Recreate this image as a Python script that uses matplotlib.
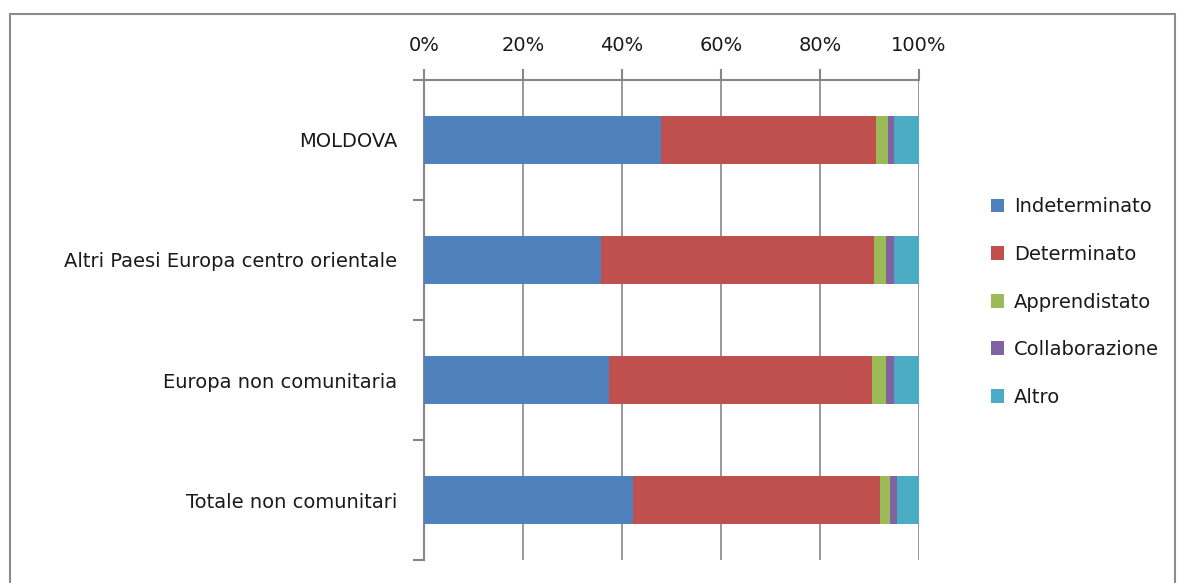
import matplotlib
matplotlib.use("Agg")
import matplotlib.pyplot as plt
import numpy as np
from matplotlib.patches import Rectangle

categories = ["MOLDOVA", "Altri Paesi Europa centro orientale",
              "Europa non comunitaria", "Totale non comunitari"]
series_names = ["Indeterminato", "Determinato", "Apprendistato", "Collaborazione", "Altro"]
indeterminato = [47.9, 35.8, 37.4, 42.2]
determinato = [43.4, 55.1, 53.1, 49.9]
apprendistato = [2.5, 2.4, 2.8, 2.0]
collaborazione = [1.1, 1.6, 1.6, 1.5]
altro = [5.1, 5.1, 5.1, 4.4]
tick_labels = ["0%", "20%", "40%", "60%", "80%", "100%"]

colors = ["#4F81BD", "#C0504D", "#9BBB59", "#8064A2", "#4BACC6"]
grey = "#868686"
fs = 14

fig = plt.figure(figsize=(11.86, 5.83), dpi=100)
W, H = 1186, 583
ax = fig.add_axes([424 / W, 1 - 560 / H, 495 / W, 480 / H])

# chart border
fig.patches.append(Rectangle((10 / W, 1 - 1000 / H), 1165 / W, (1000 - 14) / H,
                             transform=fig.transFigure, fill=False,
                             edgecolor="#8c8c8c", linewidth=1.5))

data = [indeterminato, determinato, apprendistato, collaborazione, altro]
y = np.arange(len(categories))
left = np.zeros(len(categories))
for name, vals, c in zip(series_names, data, colors):
    ax.barh(y, vals, left=left, height=0.4, color=c, label=name, zorder=3)
    left += np.array(vals)

ax.set_xlim(0, 100)
ax.set_ylim(len(categories) - 0.5, -0.5)
ax.set_xticks(np.arange(0, 101, 20))
ax.set_xticklabels(tick_labels)
ax.xaxis.tick_top()
ax.set_yticks(y)
ax.set_yticklabels(categories)
ax.set_yticks(np.arange(-0.5, len(categories)), minor=True)
ax.tick_params(axis="y", which="major", length=0, pad=19, labelsize=fs)
ax.tick_params(axis="y", which="minor", length=8, color=grey, width=1.5)
ax.tick_params(axis="x", length=8, color=grey, width=1.5, pad=10, labelsize=fs)
for lab in ax.get_xticklabels() + ax.get_yticklabels():
    lab.set_color("#1a1a1a")

ax.grid(axis="x", color=grey, linewidth=1.2, zorder=0)
for s in ["right", "bottom"]:
    ax.spines[s].set_visible(False)
for s in ["top", "left"]:
    ax.spines[s].set_color(grey)
    ax.spines[s].set_linewidth(1.5)

ax.legend(loc="center left", bbox_to_anchor=(973 / W, 1 - 302 / H),
          bbox_transform=fig.transFigure, frameon=False, fontsize=fs,
          handlelength=0.7, handleheight=0.7, handletextpad=0.5,
          labelspacing=1.47, labelcolor="#1a1a1a")

fig.savefig("out.png", dpi=100)
